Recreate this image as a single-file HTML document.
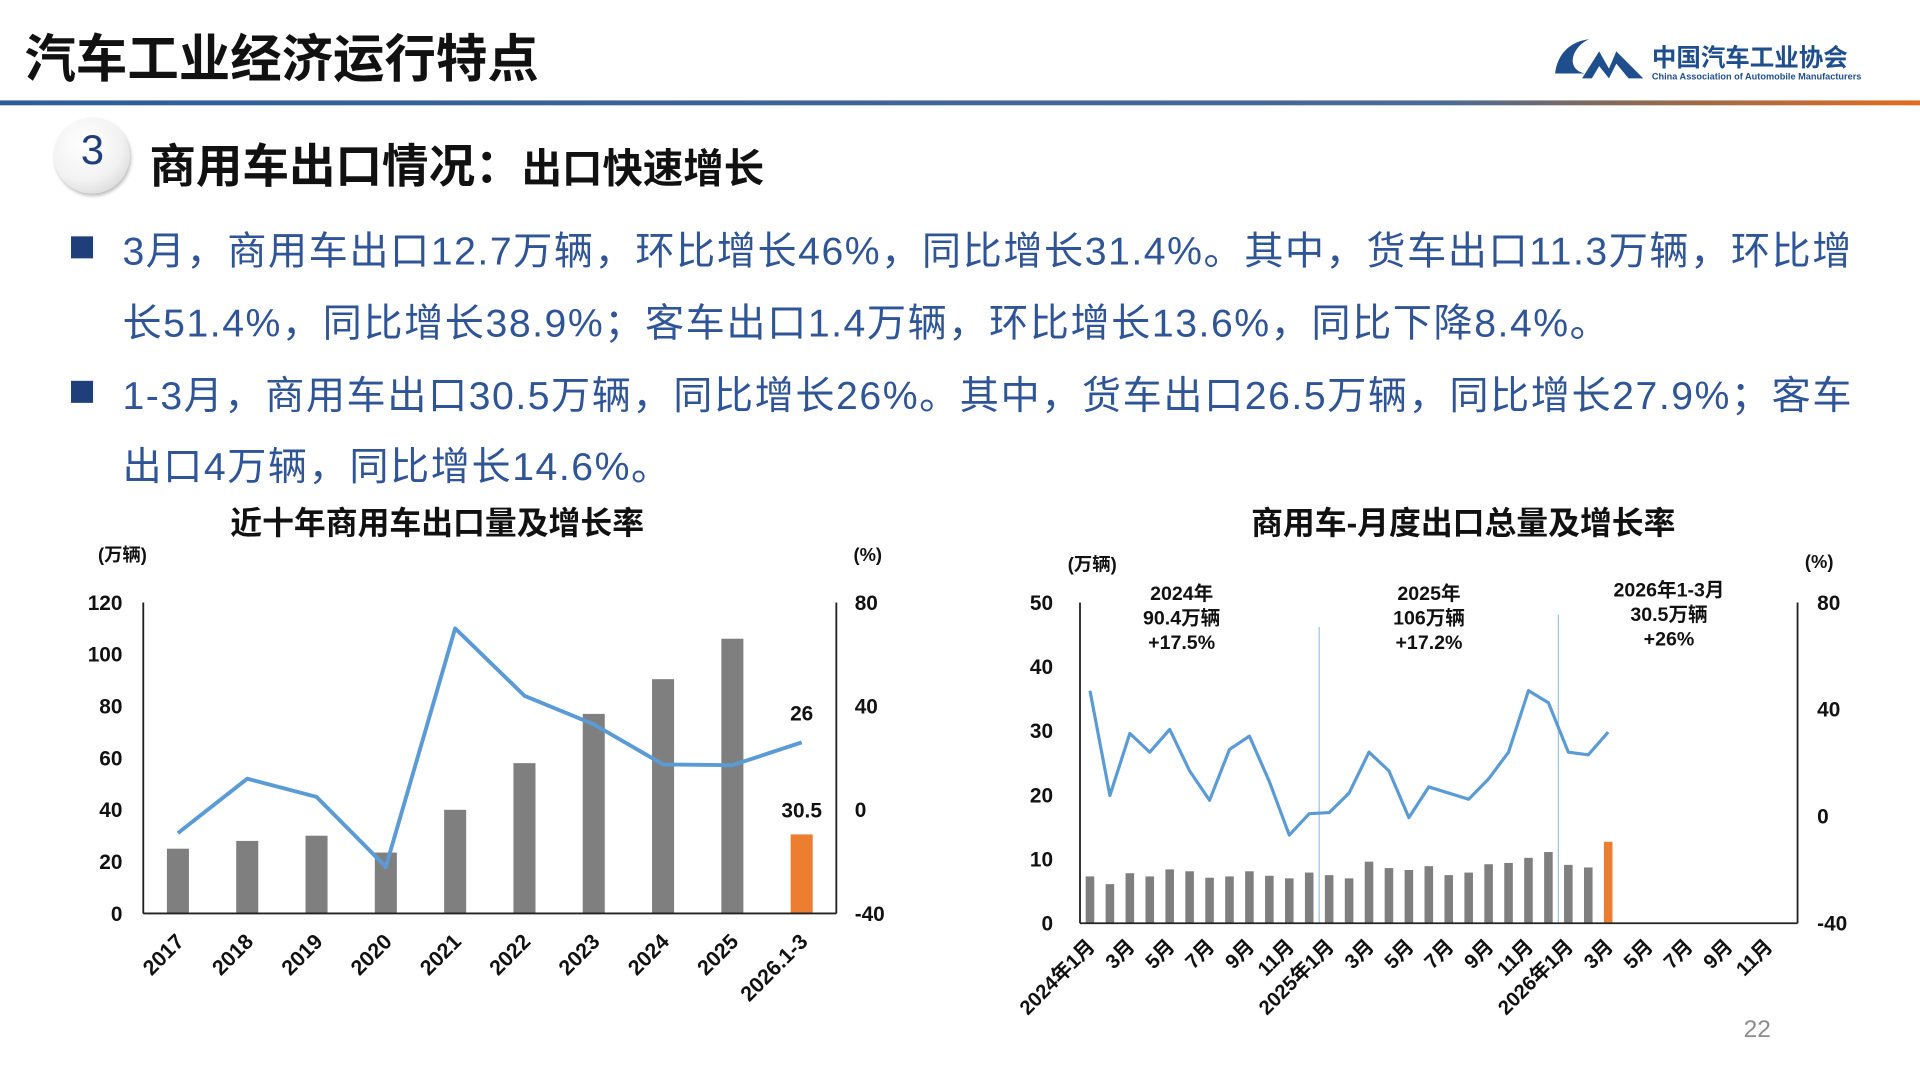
<!DOCTYPE html>
<html><head><meta charset="utf-8">
<style>
html,body{margin:0;padding:0;background:#fff;overflow:hidden;}
body{width:1920px;height:1080px;position:relative;}
#stage{position:absolute;left:0;top:0;width:1568px;height:882px;transform:scale(1.22449);transform-origin:0 0;font-family:"Liberation Sans","Noto Sans CJK SC",sans-serif;}
.abs{position:absolute;white-space:nowrap;}
.bul{position:absolute;left:100px;font-size:32px;letter-spacing:1.25px;color:#2F5597;white-space:nowrap;}
.sq{position:absolute;left:58px;width:18px;height:18px;background:#1F3F7A;}
</style></head><body>
<div id="stage">
  <div class="abs" style="left:20px;top:15px;font-size:42px;font-weight:bold;color:#111;">汽车工业经济运行特点</div>
  <svg class="abs" style="left:1268px;top:30px" width="76" height="38" viewBox="0 0 76 38">
    <path d="M30 2 C14 4 4 14 2 30 L26 30 C10 26 16 8 30 2 Z" fill="#1F4E8C"/>
    <path d="M24 34 L38 12 L46 26 L52 12 L74 34 L62 34 L52 22 L46 34 L38 24 L32 34 Z" fill="#1F4E8C"/>
  </svg>
  <div class="abs" style="left:1349px;top:31px;font-size:20px;font-weight:bold;color:#1F4E8C;">中国汽车工业协会</div>
  <div class="abs" style="left:1349px;top:58px;font-size:7.5px;font-weight:bold;color:#1F4E8C;">China Association of Automobile Manufacturers</div>
  <div class="abs" style="left:0;top:82px;width:1568px;height:4px;background:linear-gradient(90deg,#2E5C9A 0%,#4a6a95 75%,#8a6a55 85%,#E46C1E 100%);"></div>

  <div class="abs" style="left:44px;top:96px;width:62px;height:62px;border-radius:50%;background:radial-gradient(circle at 40% 35%,#fff 0%,#f2f2f2 55%,#c9c9c9 100%);box-shadow:1px 2px 3px #bbb;"></div>
  <div class="abs" style="left:66px;top:104px;font-size:34px;color:#1F3F7A;">3</div>
  <div class="abs" style="left:122px;top:105px;font-size:38px;font-weight:bold;color:#111;">商用车出口情况：<span style="font-size:33px">出口快速增长</span></div>

  <div class="sq" style="top:193px"></div>
  <div class="bul" style="top:180px">3月，商用车出口12.7万辆，环比增长46%，同比增长31.4%。其中，货车出口11.3万辆，环比增</div>
  <div class="bul" style="top:239px">长51.4%，同比增长38.9%；客车出口1.4万辆，环比增长13.6%，同比下降8.4%。</div>
  <div class="sq" style="top:311px"></div>
  <div class="bul" style="top:298px">1-3月，商用车出口30.5万辆，同比增长26%。其中，货车出口26.5万辆，同比增长27.9%；客车</div>
  <div class="bul" style="top:356px">出口4万辆，同比增长14.6%。</div>

  <svg id="c1" class="abs" style="left:0;top:0" width="1568" height="882"></svg>
  <div class="abs" style="left:1424px;top:830px;font-size:20px;color:#8c8c8c;">22</div>
</div>
<script>
// Chart 1 data
const years = ["2017","2018","2019","2020","2021","2022","2023","2024","2025","2026.1-3"];
const annualVolume = [25, 28, 30, 23.5, 40, 58, 77, 90.4, 106, 30.5];
const annualGrowth = [-9, 12, 5, -22, 70, 44, 33, 17.5, 17.2, 26];
const leftTicks1 = [0,20,40,60,80,100,120];
const rightTicks1 = [-40,0,40,80];
// Chart 2 data
const months = ["2024年1月","2月","3月","4月","5月","6月","7月","8月","9月","10月","11月","12月","2025年1月","2月","3月","4月","5月","6月","7月","8月","9月","10月","11月","12月","2026年1月","2月","3月","4月","5月","6月","7月","8月","9月","10月","11月","12月"];
const monthlyVolume = [7.3,6.1,7.8,7.3,8.4,8.1,7.1,7.3,8.1,7.4,7.0,7.9, 7.5,7.0,9.6,8.6,8.3,8.9,7.5,7.9,9.2,9.4,10.2,11.1, 9.1,8.7,12.7];
const monthlyGrowth = [47,7.8,31,24,32.5,17,6,25,30,13,-7,1, 1.4,8.7,24,17,-0.5,11,8.7,6.4,14,24,47,42.5, 24,23,31.5];
const leftTicks2 = [0,10,20,30,40,50];
const rightTicks2 = [-40,0,40,80];
const notes2 = [["2024年","90.4万辆","+17.5%"],["2025年","106万辆","+17.2%"],["2026年1-3月","30.5万辆","+26%"]];

const NS="http://www.w3.org/2000/svg";
const svg=document.getElementById('c1');
function mk(tag,attrs,parent){const e=document.createElementNS(NS,tag);for(const k in attrs)e.setAttribute(k,attrs[k]);(parent||svg).appendChild(e);return e;}
function txt(x,y,s,size,anchor,extra){const t=mk('text',Object.assign({x:x,y:y,'font-size':size,'font-weight':'bold','text-anchor':anchor||'middle','font-family':'"Liberation Sans","Noto Sans CJK SC",sans-serif',fill:'#111'},extra||{}));t.textContent=s;return t;}

// ---- Chart 1 ----
const L1=117,R1=683,T1=492,B1=746;
const y1=v=>B1-(v/120)*(B1-T1);
const y1r=v=>B1-((v+40)/120)*(B1-T1);
const bw1=(R1-L1)/years.length;
const x1=i=>L1+bw1*(i+0.5);
let t=txt(357,436,"近十年商用车出口量及增长率",26);


t=txt(80,458,"(万辆)",15,'start');


t=txt(697,458,"(%)",15,'start');


leftTicks1.forEach(v=>{const e=txt(100,y1(v)+6,String(v),17,'end');

});
rightTicks1.forEach(v=>{const e=txt(698,y1r(v)+6,String(v),17,'start');

});
annualVolume.forEach((v,i)=>{const r=mk('rect',{x:x1(i)-9,y:y1(v),width:18,height:B1-y1(v),fill:i===annualVolume.length-1?'#ED7D31':'#7F7F7F'});

});
let a=mk('line',{x1:L1,y1:T1,x2:L1,y2:B1,stroke:'#222','stroke-width':1.5});


a=mk('line',{x1:R1,y1:T1,x2:R1,y2:B1,stroke:'#222','stroke-width':1.5});


a=mk('line',{x1:L1,y1:B1,x2:R1,y2:B1,stroke:'#222','stroke-width':1.5});


let p=mk('polyline',{points:annualGrowth.map((v,i)=>x1(i)+','+y1r(v)).join(' '),fill:'none',stroke:'#5B9BD5','stroke-width':3.2,'stroke-linejoin':'round'});


const last=years.length-1;
t=txt(x1(last),y1r(annualGrowth[last])-18,String(annualGrowth[last]),17);


t=txt(x1(last),y1(annualVolume[last])-14,String(annualVolume[last]),17);


years.forEach((s,i)=>{const e=txt(x1(i)+6,B1+24,s,17.5,'end',{transform:'rotate(-45 '+(x1(i)+6)+' '+(B1+24)+')'});

});

// ---- Chart 2 ----
const L2=882,R2=1468,T2=492,B2=754;
const y2=v=>B2-(v/50)*(B2-T2);
const y2r=v=>B2-((v+40)/120)*(B2-T2);
const bw2=(R2-L2)/months.length;
const x2=i=>L2+bw2*(i+0.5);
t=txt(1195,436,"商用车-月度出口总量及增长率",26);


t=txt(872,466,"(万辆)",15,'start');


t=txt(1474,464,"(%)",15,'start');


leftTicks2.forEach(v=>{const e=txt(860,y2(v)+6,String(v),17,'end');

});
rightTicks2.forEach(v=>{const e=txt(1484,y2r(v)+6,String(v),17,'start');

});
monthlyVolume.forEach((v,i)=>{const r=mk('rect',{x:x2(i)-3.5,y:y2(v),width:7,height:B2-y2(v),fill:i===monthlyVolume.length-1?'#ED7D31':'#7F7F7F'});

});
[12,24].forEach((k,j)=>{const d=mk('line',{x1:L2+bw2*k,y1:j===0?512:502,x2:L2+bw2*k,y2:B2,stroke:'#9DC3E6','stroke-width':1});

});
a=mk('line',{x1:L2,y1:T2,x2:L2,y2:B2,stroke:'#222','stroke-width':1.5});


a=mk('line',{x1:R2,y1:T2,x2:R2,y2:B2,stroke:'#222','stroke-width':1.5});


a=mk('line',{x1:L2,y1:B2,x2:R2,y2:B2,stroke:'#222','stroke-width':1.5});


p=mk('polyline',{points:monthlyGrowth.map((v,i)=>x2(i)+','+y2r(v)).join(' '),fill:'none',stroke:'#5B9BD5','stroke-width':2.6,'stroke-linejoin':'round'});


const noteX=[965,1167,1363], noteY=[490,490,487];
notes2.forEach((n,j)=>n.forEach((s,k)=>{const e=txt(noteX[j],noteY[j]+k*20,s,16);

}));
months.forEach((s,i)=>{if(i%2)return;const e=txt(x2(i)+5,B2+20,s,16.5,'end',{transform:'rotate(-45 '+(x2(i)+5)+' '+(B2+20)+')'});

});
</script>
</body></html>
